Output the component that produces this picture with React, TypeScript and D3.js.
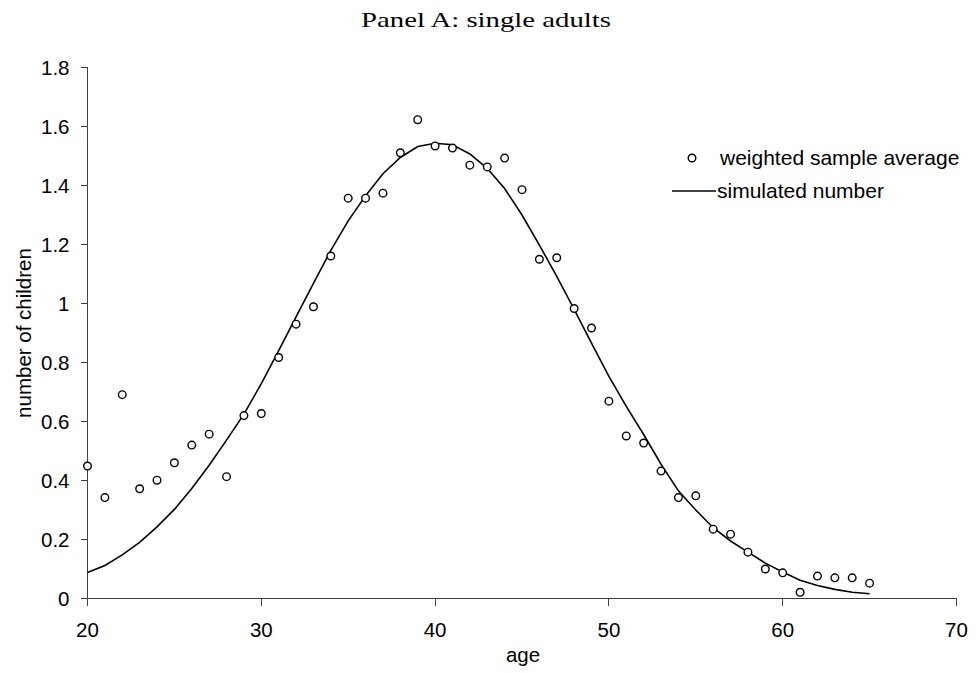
import React from "react";
import * as d3 from "d3";

const ages: number[] = [20,21,22,23,24,25,26,27,28,29,30,31,32,33,34,35,36,37,38,39,40,41,42,43,44,45,46,47,48,49,50,51,52,53,54,55,56,57,58,59,60,61,62,63,64,65];

const sampleAvg: number[] = [
  0.449, 0.342, 0.691, 0.372, 0.401, 0.460, 0.520, 0.557, 0.413, 0.620,
  0.627, 0.817, 0.930, 0.989, 1.161, 1.357, 1.357, 1.374, 1.511, 1.623,
  1.534, 1.527, 1.469, 1.463, 1.493, 1.386, 1.150, 1.155, 0.983, 0.917,
  0.669, 0.551, 0.527, 0.432, 0.342, 0.348, 0.235, 0.218, 0.157, 0.100,
  0.087, 0.021, 0.076, 0.070, 0.070, 0.052,
];

const simulated: number[] = [
  0.088, 0.112, 0.148, 0.190, 0.243, 0.302, 0.373, 0.452, 0.537, 0.625,
  0.728, 0.840, 0.955, 1.068, 1.180, 1.280, 1.365, 1.440, 1.495, 1.532,
  1.543, 1.538, 1.507, 1.458, 1.390, 1.300, 1.198, 1.092, 0.980, 0.866,
  0.753, 0.651, 0.556, 0.455, 0.365, 0.300, 0.240, 0.195, 0.157, 0.120,
  0.090, 0.062, 0.044, 0.031, 0.021, 0.016,
];

const xTicks: number[] = [20, 30, 40, 50, 60, 70];
const yTicks: number[] = [0, 0.2, 0.4, 0.6, 0.8, 1, 1.2, 1.4, 1.6, 1.8];

const title = "Panel A: single adults";
const xLabel = "age";
const yLabel = "number of children";
const legendScatter = "weighted sample average";
const legendLine = "simulated number";

export default function App() {
  const W = 978, H = 673;
  const x = d3.scaleLinear().domain([20, 70]).range([87.5, 956.5]);
  const y = d3.scaleLinear().domain([0, 1.8]).range([598.5, 67.5]);
  const line = d3.line<number>().x((_, i) => x(ages[i])).y((d) => y(d));
  const sans = "'Liberation Sans', Arial, sans-serif";
  const axisColor = "#404040";
  const fs = 20.5;

  return (
    <svg width={W} height={H} style={{ position: "absolute", left: 0, top: 0, background: "#fff" }}>
      <rect x={0} y={0} width={W} height={H} fill="#fff" />
      <text x={486} y={27} textAnchor="middle" fontFamily="'Liberation Serif', 'Times New Roman', serif" fontSize={21} textLength={250} lengthAdjust="spacingAndGlyphs" fill="#000">{title}</text>

      {/* axes */}
      <g shapeRendering="crispEdges" stroke={axisColor} strokeWidth={1}>
        <line x1={x(20)} x2={x(20)} y1={y(1.8)} y2={y(0)} />
        <line x1={x(20)} x2={x(70)} y1={y(0)} y2={y(0)} />
        {yTicks.map((t) => (
          <line key={"yt" + t} x1={x(20) - 7} x2={x(20)} y1={y(t)} y2={y(t)} />
        ))}
        {xTicks.map((t) => (
          <line key={"xt" + t} x1={x(t)} x2={x(t)} y1={y(0)} y2={y(0) + 7} />
        ))}
      </g>
      <g fontFamily={sans} fontSize={fs} fill="#000">
        {yTicks.map((t) => (
          <text key={"yl" + t} x={x(20) - 18} y={y(t)} dy="0.36em" textAnchor="end">{d3.format("~g")(t)}</text>
        ))}
        {xTicks.map((t) => (
          <text key={"xl" + t} x={x(t)} y={637} textAnchor="middle">{t}</text>
        ))}
        <text x={523} y={662} textAnchor="middle">{xLabel}</text>
        <text transform={`translate(31,333) rotate(-90)`} textAnchor="middle">{yLabel}</text>
      </g>

      {/* simulated line */}
      <path d={line(simulated) || ""} fill="none" stroke="#000" strokeWidth={1.6} />

      {/* sample points */}
      {sampleAvg.map((v, i) => (
        <circle key={"p" + i} cx={x(ages[i])} cy={y(v)} r={3.8} fill="#fff" stroke="#000" strokeWidth={1.4} />
      ))}

      {/* legend */}
      <circle cx={692} cy={158} r={3.8} fill="#fff" stroke="#000" strokeWidth={1.4} />
      <text x={720} y={165} fontFamily={sans} fontSize={21} fill="#000">{legendScatter}</text>
      <line x1={672} x2={716} y1={191} y2={191} stroke="#000" strokeWidth={1.6} />
      <text x={717} y={198} fontFamily={sans} fontSize={21} fill="#000">{legendLine}</text>
    </svg>
  );
}
